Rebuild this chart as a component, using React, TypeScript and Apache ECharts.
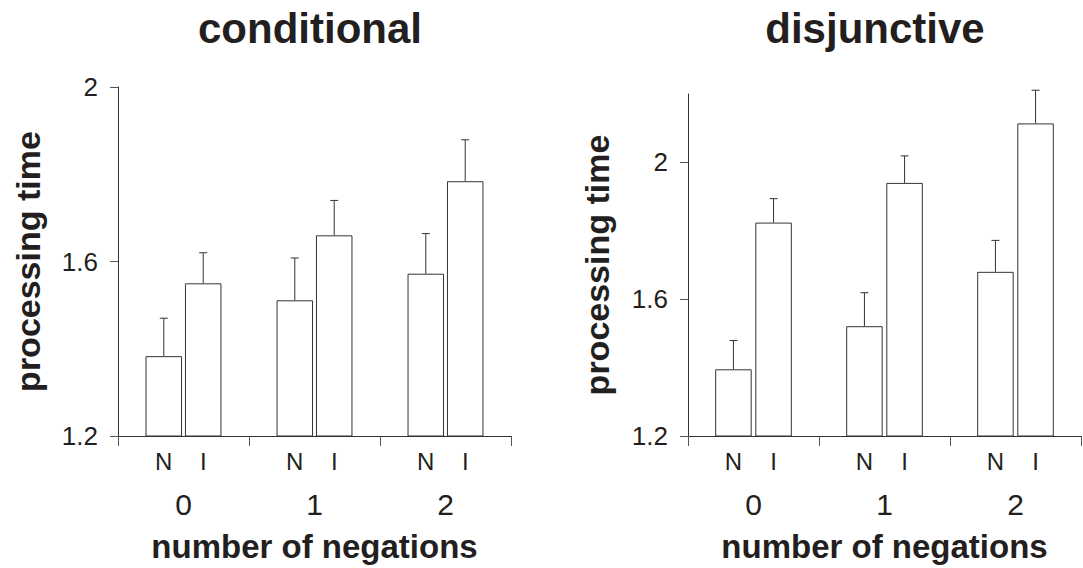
import React, { useEffect, useRef } from "react";
import * as echarts from "echarts";

const groups = ["0", "1", "2"];
const seriesNames = ["N", "I"];

const condN = [1.383, 1.511, 1.572];
const condNErr = [0.087, 0.097, 0.092];
const condI = [1.55, 1.66, 1.784];
const condIErr = [0.07, 0.08, 0.095];

const disjN = [1.395, 1.521, 1.68];
const disjNErr = [0.084, 0.098, 0.092];
const disjI = [1.824, 1.94, 2.114];
const disjIErr = [0.07, 0.079, 0.097];

const yTicks = [1.2, 1.6, 2];

const FONT = "'Liberation Sans', Arial, Helvetica, sans-serif";
const INK = "#231f20";
const LINE = "#333";
const BAR_W = 36.5;

function panel(idx: number, vals: number[][], errs: number[][], gapFrac: number) {
  const gapPx = BAR_W * gapFrac;
  const half = (BAR_W + gapPx) / 2;
  const bars = vals.map((v, s) => ({
    type: "bar",
    name: seriesNames[s],
    xAxisIndex: idx,
    yAxisIndex: idx,
    data: v,
    barWidth: BAR_W,
    barGap: `${gapFrac * 100}%`,
    itemStyle: { color: "#fff", borderColor: LINE, borderWidth: 1 },
    label: {
      show: true,
      position: ["50%", "100%"],
      offset: [0, 25],
      align: "center",
      verticalAlign: "middle",
      formatter: "{a}",
      fontFamily: FONT,
      fontSize: 24,
      color: INK,
    },
  }));
  const errSeries = vals.map((v, s) => ({
    type: "custom",
    xAxisIndex: idx,
    yAxisIndex: idx,
    clip: false,
    encode: { x: 0, y: 1 },
    data: v.map((val, i) => [i, val, errs[s][i]]),
    renderItem: (params: any, api: any) => {
      const cat = api.value(0);
      const val = api.value(1);
      const err = api.value(2);
      const b = api.coord([cat, val]);
      const t = api.coord([cat, val + err]);
      const x = b[0] + (s === 0 ? -half : half);
      return {
        type: "group",
        children: [
          { type: "line", shape: { x1: x, y1: b[1], x2: x, y2: t[1] }, style: { stroke: LINE, lineWidth: 1 } },
          { type: "line", shape: { x1: x - 4, y1: t[1], x2: x + 4, y2: t[1] }, style: { stroke: LINE, lineWidth: 1 } },
        ],
      };
    },
  }));
  return [...bars, ...errSeries];
}

function xAxis(idx: number) {
  return {
    type: "category",
    gridIndex: idx,
    data: groups,
    axisLine: { lineStyle: { color: LINE, width: 1 } },
    axisTick: { show: true, length: 10, lineStyle: { color: "#555" } },
    axisLabel: { fontFamily: FONT, fontSize: 30, color: INK, margin: 53 },
    name: "number of negations",
    nameLocation: "middle",
    nameGap: 94,
    nameTextStyle: { fontFamily: FONT, fontSize: 33, fontWeight: "bold", color: INK },
  };
}

function yAxis(idx: number, max: number, gap: number) {
  return {
    type: "value",
    gridIndex: idx,
    min: 1.2,
    max,
    interval: 0.4,
    axisLine: { show: true, lineStyle: { color: LINE, width: 1 } },
    axisTick: { show: true, length: 8, lineStyle: { color: "#555" }, customValues: yTicks },
    axisLabel: { fontFamily: FONT, fontSize: 26, color: INK, margin: 20, customValues: yTicks },
    splitLine: { show: false },
    name: "processing time",
    nameLocation: "middle",
    nameGap: gap,
    nameTextStyle: { fontFamily: FONT, fontSize: 34, fontWeight: "bold", color: INK },
  };
}

export default function App() {
  const ref = useRef<HTMLDivElement>(null);
  useEffect(() => {
    if (!ref.current) return;
    const chart = echarts.init(ref.current, null, { renderer: "svg" });
    chart.setOption({
      animation: false,
      backgroundColor: "#fff",
      grid: [
        { left: 118, top: 87, width: 393, height: 349 },
        { left: 688, top: 94, width: 393, height: 342 },
      ],
      xAxis: [xAxis(0), xAxis(1)],
      yAxis: [yAxis(0, 2, 73), yAxis(1, 2.2, 74)],
      graphic: [
        {
          type: "text",
          x: 310,
          y: 28,
          style: { text: "conditional", font: `bold 42px ${FONT}`, fill: INK, textAlign: "center", textVerticalAlign: "middle" },
        },
        {
          type: "text",
          x: 875,
          y: 28,
          style: { text: "disjunctive", font: `bold 42px ${FONT}`, fill: INK, textAlign: "center", textVerticalAlign: "middle" },
        },
      ],
      series: [...panel(0, [condN, condI], [condNErr, condIErr], 0.08), ...panel(1, [disjN, disjI], [disjNErr, disjIErr], 0.1)],
    });
    return () => chart.dispose();
  }, []);
  return <div ref={ref} style={{ position: "fixed", left: 0, top: 0, width: 1083, height: 568 }} />;
}
